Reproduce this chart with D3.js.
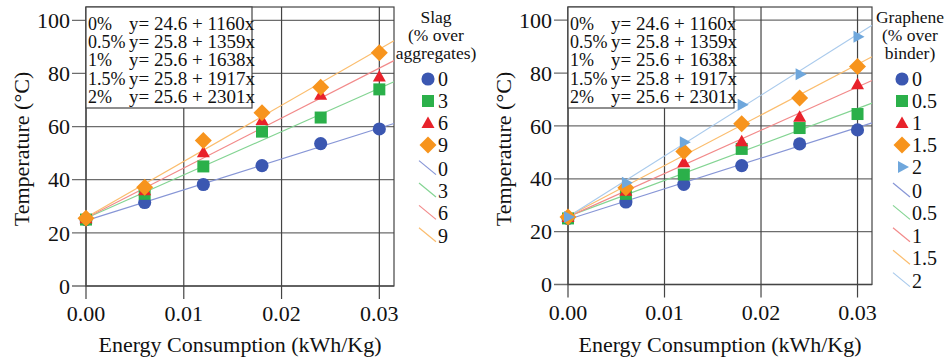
<!DOCTYPE html>
<html>
<head>
<meta charset="utf-8">
<script src="https://cdn.jsdelivr.net/npm/d3@7"></script>
<style>
  body { margin: 0; background: #fff; }
  svg text { font-family: 'Liberation Serif', Tinos, 'Times New Roman', Times, serif; fill: #111; }
</style>
</head>
<body>
<script>
// energy steps (kWh/Kg)
var energy = [0, 0.006, 0.012, 0.018, 0.024, 0.030];

// left panel: slag
var slagLabels = ["0", "3", "6", "9"];
var slag0 = [25, 31.4, 38.2, 45.3, 53.6, 59.1];
var slag3 = [25, 34.7, 45, 58.1, 63.4, 74];
var slag6 = [25.5, 36, 50.3, 62.5, 72, 78.8];
var slag9 = [25.5, 37.2, 54.8, 65.2, 74.8, 87.8];
var slagIntercept = [24.6, 25.5, 25.6, 25.8];
var slagSlope = [1160, 1630, 1880, 2110];

// right panel: graphene
var grapheneLabels = ["0", "0.5", "1", "1.5", "2"];
var gra0 = [25, 31.2, 37.9, 45, 53.2, 58.5];
var gra05 = [25, 34.3, 41.6, 51.3, 59.2, 64.5];
var gra1 = [25.5, 35.5, 46.3, 54.2, 63.5, 75.8];
var gra15 = [25.5, 36.6, 50.3, 60.8, 70.6, 82.5];
var gra2 = [25.5, 38.5, 53.8, 68, 79.6, 93.7];
var graIntercept = [24.6, 25.8, 25.6, 25.8, 25.6];
var graSlope = [1160, 1359, 1638, 1917, 2301];

// equation box text
var eqPct = ["0%", "0.5%", "1%", "1.5%", "2%"];
var eqText = ["y= 24.6 + 1160x", "y= 25.8 + 1359x", "y= 25.6 + 1638x", "y= 25.8 + 1917x", "y= 25.6 + 2301x"];

var xTicks = [0, 0.01, 0.02, 0.03];
var yTicks = [0, 20, 40, 60, 80, 100];

var markColors = ["#3b57b1", "#2bb04a", "#e8222b", "#f7941d", "#6fa7dc"];
var lineColors = ["#8796d6", "#84d493", "#f28a8a", "#fbbd6e", "#a9caec"];
// circle, square, triangle, diamond, right-pointing triangle
var shapePaths = [
  d3.symbol().type(d3.symbolCircle).size(135)(),
  "M-6,-6H6V6H-6Z",
  "M0,-6.5L6.5,5L-6.5,5Z",
  "M0,-8.5L8.5,0L0,8.5L-8.5,0Z",
  "M-4,-6L7,0L-4,6Z"
];

var w = 951, h = 358;
var svg = d3.select("body").append("svg").attr("width", w).attr("height", h);

function marker(g, k, x, y) {
  g.append("path")
    .attr("d", shapePaths[k])
    .attr("transform", "translate(" + x + "," + y + ")")
    .attr("fill", markColors[k]);
}

function panel(opt) {
  var g = svg.append("g");
  var x = d3.scaleLinear().domain([0, 0.0315]).range([opt.left, opt.right]);
  var y = d3.scaleLinear().domain([0, 105]).range([opt.bottom, 7]);

  // grid
  g.selectAll(".hg").data(yTicks).enter().append("line")
    .attr("x1", opt.left - 14).attr("x2", opt.right)
    .attr("y1", function(d) { return y(d); }).attr("y2", function(d) { return y(d); })
    .attr("stroke", "#6d6d6d").attr("stroke-width", 1.3);
  g.selectAll(".vg").data(xTicks).enter().append("line")
    .attr("x1", function(d) { return x(d); }).attr("x2", function(d) { return x(d); })
    .attr("y1", 7).attr("y2", opt.bottom + 13)
    .attr("stroke", "#444").attr("stroke-width", 1.2);
  // frame
  g.append("rect")
    .attr("x", opt.left).attr("y", 7)
    .attr("width", opt.right - opt.left).attr("height", opt.bottom - 7)
    .attr("fill", "none").attr("stroke", "#444").attr("stroke-width", 1.2);

  // tick labels
  g.selectAll(".yl").data(yTicks).enter().append("text")
    .attr("x", opt.left - 16).attr("y", function(d) { return y(d); })
    .attr("dy", "0.35em").attr("text-anchor", "end")
    .style("font-size", "22px").text(function(d) { return d; });
  g.selectAll(".xl").data(xTicks).enter().append("text")
    .attr("x", function(d) { return x(d); }).attr("y", opt.bottom + 35)
    .attr("text-anchor", "middle")
    .style("font-size", "22px").text(function(d) { return d3.format(".2f")(d); });

  // axis titles
  g.append("text")
    .attr("x", (opt.left + opt.right) / 2).attr("y", 352)
    .attr("text-anchor", "middle").style("font-size", "22px")
    .text("Energy Consumption (kWh/Kg)");
  g.append("text")
    .attr("transform", "translate(" + (opt.left - 57) + "," + 149 + ") rotate(-90)")
    .attr("text-anchor", "middle").style("font-size", "22px")
    .text("Temperature (°C)");

  // fit lines
  opt.series.forEach(function(s, k) {
    g.append("line")
      .attr("x1", x(0)).attr("y1", y(opt.intercept[k]))
      .attr("x2", x(0.0315)).attr("y2", y(opt.intercept[k] + opt.slope[k] * 0.0315))
      .attr("stroke", lineColors[k]).attr("stroke-width", 1.2);
  });

  // equation box
  var box = g.append("g");
  box.append("rect")
    .attr("x", opt.left).attr("y", 7).attr("width", 166).attr("height", 101)
    .attr("fill", "#fff").attr("stroke", "#444").attr("stroke-width", 1.2);
  eqPct.forEach(function(p, i) {
    box.append("text").attr("x", opt.left + 2).attr("y", 30 + i * 18.2)
      .style("font-size", "18px").text(p);
    box.append("text").attr("x", opt.left + 43).attr("y", 30 + i * 18.2)
      .style("font-size", "19px").text(eqText[i]);
  });

  // markers
  opt.series.forEach(function(s, k) {
    s.forEach(function(v, i) {
      marker(g, k, x(energy[i]), y(v));
    });
  });

  // legend
  var lg = g.append("g");
  opt.title.forEach(function(t, i) {
    lg.append("text").attr("x", opt.legendX).attr("y", 23 + i * 18)
      .attr("text-anchor", "middle").style("font-size", "17.5px").text(t);
  });
  var n = opt.labels.length;
  opt.labels.forEach(function(l, k) {
    var cy = 79 + k * 22;
    marker(lg, k, opt.legendX - 8, cy);
    lg.append("text").attr("x", opt.legendX + 2).attr("y", cy).attr("dy", "0.35em")
      .style("font-size", "20px").text(l);
  });
  opt.labels.forEach(function(l, k) {
    var cy = 79 + (n + k) * 22.4;
    lg.append("line")
      .attr("x1", opt.legendX - 17).attr("y1", cy - 8)
      .attr("x2", opt.legendX).attr("y2", cy + 6)
      .attr("stroke", lineColors[k]).attr("stroke-width", 1.2);
    lg.append("text").attr("x", opt.legendX + 2).attr("y", cy).attr("dy", "0.35em")
      .style("font-size", "20px").text(l);
  });
}

panel({
  left: 86, right: 394, bottom: 286,
  series: [slag0, slag3, slag6, slag9],
  intercept: slagIntercept, slope: slagSlope,
  labels: slagLabels,
  title: ["Slag", "(% over", "aggregates)"],
  legendX: 436
});

panel({
  left: 568, right: 872, bottom: 284.5,
  series: [gra0, gra05, gra1, gra15, gra2],
  intercept: graIntercept, slope: graSlope,
  labels: grapheneLabels,
  title: ["Graphene", "(% over", "binder)"],
  legendX: 910
});
</script>
</body>
</html>
